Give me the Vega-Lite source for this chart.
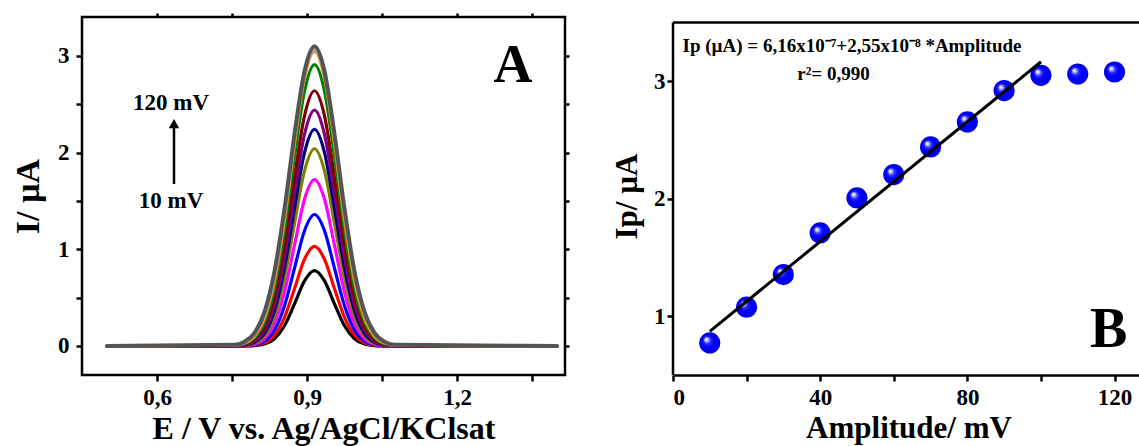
{
  "$schema": "https://vega.github.io/schema/vega-lite/v6.json",
  "padding": {"left": 10, "top": 10, "right": 0, "bottom": 0},
  "background": "white",
  "bounds": "flush",
  "spacing": 108,
  "datasets": {
    "curves": [
      {"a":10,"E":0.5,"I":0},{"a":10,"E":0.755,"I":0},{"a":10,"E":0.775,"I":0.001},{"a":10,"E":0.795,"I":0.004},{"a":10,"E":0.815,"I":0.020},{"a":10,"E":0.835,"I":0.075},{"a":10,"E":0.855,"I":0.209},{"a":10,"E":0.875,"I":0.435},{"a":10,"E":0.895,"I":0.674},{"a":10,"E":0.915,"I":0.78},{"a":10,"E":0.935,"I":0.674},{"a":10,"E":0.955,"I":0.435},{"a":10,"E":0.975,"I":0.209},{"a":10,"E":0.995,"I":0.075},{"a":10,"E":1.015,"I":0.020},{"a":10,"E":1.035,"I":0.004},{"a":10,"E":1.055,"I":0.001},{"a":10,"E":1.075,"I":0},{"a":10,"E":1.4,"I":0},
      {"a":20,"E":0.5,"I":0},{"a":20,"E":0.755,"I":0},{"a":20,"E":0.775,"I":0.001},{"a":20,"E":0.795,"I":0.007},{"a":20,"E":0.815,"I":0.032},{"a":20,"E":0.835,"I":0.112},{"a":20,"E":0.855,"I":0.296},{"a":20,"E":0.875,"I":0.592},{"a":20,"E":0.895,"I":0.897},{"a":20,"E":0.915,"I":1.03},{"a":20,"E":0.935,"I":0.897},{"a":20,"E":0.955,"I":0.592},{"a":20,"E":0.975,"I":0.296},{"a":20,"E":0.995,"I":0.112},{"a":20,"E":1.015,"I":0.032},{"a":20,"E":1.035,"I":0.007},{"a":20,"E":1.055,"I":0.001},{"a":20,"E":1.075,"I":0},{"a":20,"E":1.4,"I":0},
      {"a":30,"E":0.5,"I":0},{"a":30,"E":0.755,"I":0},{"a":30,"E":0.775,"I":0.002},{"a":30,"E":0.795,"I":0.012},{"a":30,"E":0.815,"I":0.051},{"a":30,"E":0.835,"I":0.166},{"a":30,"E":0.855,"I":0.417},{"a":30,"E":0.875,"I":0.804},{"a":30,"E":0.895,"I":1.192},{"a":30,"E":0.915,"I":1.36},{"a":30,"E":0.935,"I":1.192},{"a":30,"E":0.955,"I":0.804},{"a":30,"E":0.975,"I":0.417},{"a":30,"E":0.995,"I":0.166},{"a":30,"E":1.015,"I":0.051},{"a":30,"E":1.035,"I":0.012},{"a":30,"E":1.055,"I":0.002},{"a":30,"E":1.075,"I":0},{"a":30,"E":1.4,"I":0},
      {"a":40,"E":0.5,"I":0},{"a":40,"E":0.755,"I":0.001},{"a":40,"E":0.775,"I":0.004},{"a":40,"E":0.795,"I":0.019},{"a":40,"E":0.815,"I":0.076},{"a":40,"E":0.835,"I":0.233},{"a":40,"E":0.855,"I":0.558},{"a":40,"E":0.875,"I":1.043},{"a":40,"E":0.895,"I":1.518},{"a":40,"E":0.915,"I":1.72},{"a":40,"E":0.935,"I":1.518},{"a":40,"E":0.955,"I":1.043},{"a":40,"E":0.975,"I":0.558},{"a":40,"E":0.995,"I":0.233},{"a":40,"E":1.015,"I":0.076},{"a":40,"E":1.035,"I":0.019},{"a":40,"E":1.055,"I":0.004},{"a":40,"E":1.075,"I":0.001},{"a":40,"E":1.4,"I":0},
      {"a":50,"E":0.5,"I":0},{"a":50,"E":0.755,"I":0.001},{"a":50,"E":0.775,"I":0.006},{"a":50,"E":0.795,"I":0.028},{"a":50,"E":0.815,"I":0.104},{"a":50,"E":0.835,"I":0.304},{"a":50,"E":0.855,"I":0.699},{"a":50,"E":0.875,"I":1.267},{"a":50,"E":0.895,"I":1.811},{"a":50,"E":0.915,"I":2.04},{"a":50,"E":0.935,"I":1.811},{"a":50,"E":0.955,"I":1.267},{"a":50,"E":0.975,"I":0.699},{"a":50,"E":0.995,"I":0.304},{"a":50,"E":1.015,"I":0.104},{"a":50,"E":1.035,"I":0.028},{"a":50,"E":1.055,"I":0.006},{"a":50,"E":1.075,"I":0.001},{"a":50,"E":1.4,"I":0},
      {"a":60,"E":0.5,"I":0},{"a":60,"E":0.755,"I":0.002},{"a":60,"E":0.775,"I":0.009},{"a":60,"E":0.795,"I":0.038},{"a":60,"E":0.815,"I":0.131},{"a":60,"E":0.835,"I":0.365},{"a":60,"E":0.855,"I":0.807},{"a":60,"E":0.875,"I":1.423},{"a":60,"E":0.895,"I":2.000},{"a":60,"E":0.915,"I":2.24},{"a":60,"E":0.935,"I":2.000},{"a":60,"E":0.955,"I":1.423},{"a":60,"E":0.975,"I":0.807},{"a":60,"E":0.995,"I":0.365},{"a":60,"E":1.015,"I":0.131},{"a":60,"E":1.035,"I":0.038},{"a":60,"E":1.055,"I":0.009},{"a":60,"E":1.075,"I":0.002},{"a":60,"E":1.4,"I":0},
      {"a":70,"E":0.5,"I":0},{"a":70,"E":0.755,"I":0.002},{"a":70,"E":0.775,"I":0.012},{"a":70,"E":0.795,"I":0.050},{"a":70,"E":0.815,"I":0.163},{"a":70,"E":0.835,"I":0.432},{"a":70,"E":0.855,"I":0.922},{"a":70,"E":0.875,"I":1.583},{"a":70,"E":0.895,"I":2.190},{"a":70,"E":0.915,"I":2.44},{"a":70,"E":0.935,"I":2.190},{"a":70,"E":0.955,"I":1.583},{"a":70,"E":0.975,"I":0.922},{"a":70,"E":0.995,"I":0.432},{"a":70,"E":1.015,"I":0.163},{"a":70,"E":1.035,"I":0.050},{"a":70,"E":1.055,"I":0.012},{"a":70,"E":1.075,"I":0.002},{"a":70,"E":1.4,"I":0},
      {"a":80,"E":0.5,"I":0},{"a":80,"E":0.755,"I":0.004},{"a":80,"E":0.775,"I":0.017},{"a":80,"E":0.795,"I":0.064},{"a":80,"E":0.815,"I":0.200},{"a":80,"E":0.835,"I":0.506},{"a":80,"E":0.855,"I":1.042},{"a":80,"E":0.875,"I":1.746},{"a":80,"E":0.895,"I":2.381},{"a":80,"E":0.915,"I":2.64},{"a":80,"E":0.935,"I":2.381},{"a":80,"E":0.955,"I":1.746},{"a":80,"E":0.975,"I":1.042},{"a":80,"E":0.995,"I":0.506},{"a":80,"E":1.015,"I":0.200},{"a":80,"E":1.035,"I":0.064},{"a":80,"E":1.055,"I":0.017},{"a":80,"E":1.075,"I":0.004},{"a":80,"E":1.4,"I":0},
      {"a":90,"E":0.5,"I":0},{"a":90,"E":0.755,"I":0.005},{"a":90,"E":0.775,"I":0.023},{"a":90,"E":0.795,"I":0.083},{"a":90,"E":0.815,"I":0.246},{"a":90,"E":0.835,"I":0.599},{"a":90,"E":0.855,"I":1.196},{"a":90,"E":0.875,"I":1.960},{"a":90,"E":0.895,"I":2.636},{"a":90,"E":0.915,"I":2.91},{"a":90,"E":0.935,"I":2.636},{"a":90,"E":0.955,"I":1.960},{"a":90,"E":0.975,"I":1.196},{"a":90,"E":0.995,"I":0.599},{"a":90,"E":1.015,"I":0.246},{"a":90,"E":1.035,"I":0.083},{"a":90,"E":1.055,"I":0.023},{"a":90,"E":1.075,"I":0.005},{"a":90,"E":1.4,"I":0},
      {"a":100,"E":0.5,"I":0},{"a":100,"E":0.755,"I":0.007},{"a":100,"E":0.775,"I":0.030},{"a":100,"E":0.795,"I":0.102},{"a":100,"E":0.815,"I":0.287},{"a":100,"E":0.835,"I":0.672},{"a":100,"E":0.855,"I":1.303},{"a":100,"E":0.875,"I":2.090},{"a":100,"E":0.895,"I":2.775},{"a":100,"E":0.915,"I":3.05},{"a":100,"E":0.935,"I":2.775},{"a":100,"E":0.955,"I":2.090},{"a":100,"E":0.975,"I":1.303},{"a":100,"E":0.995,"I":0.672},{"a":100,"E":1.015,"I":0.287},{"a":100,"E":1.035,"I":0.102},{"a":100,"E":1.055,"I":0.030},{"a":100,"E":1.075,"I":0.007},{"a":100,"E":1.4,"I":0},
      {"a":110,"E":0.5,"I":0},{"a":110,"E":0.755,"I":0.009},{"a":110,"E":0.775,"I":0.036},{"a":110,"E":0.795,"I":0.118},{"a":110,"E":0.815,"I":0.319},{"a":110,"E":0.835,"I":0.721},{"a":110,"E":0.855,"I":1.359},{"a":110,"E":0.875,"I":2.137},{"a":110,"E":0.895,"I":2.804},{"a":110,"E":0.915,"I":3.07},{"a":110,"E":0.935,"I":2.804},{"a":110,"E":0.955,"I":2.137},{"a":110,"E":0.975,"I":1.359},{"a":110,"E":0.995,"I":0.721},{"a":110,"E":1.015,"I":0.319},{"a":110,"E":1.035,"I":0.118},{"a":110,"E":1.055,"I":0.036},{"a":110,"E":1.075,"I":0.009},{"a":110,"E":1.4,"I":0},
      {"a":120,"E":0.5,"I":0},{"a":120,"E":0.755,"I":0.012},{"a":120,"E":0.775,"I":0.044},{"a":120,"E":0.795,"I":0.136},{"a":120,"E":0.815,"I":0.354},{"a":120,"E":0.835,"I":0.773},{"a":120,"E":0.855,"I":1.419},{"a":120,"E":0.875,"I":2.191},{"a":120,"E":0.895,"I":2.842},{"a":120,"E":0.915,"I":3.10},{"a":120,"E":0.935,"I":2.842},{"a":120,"E":0.955,"I":2.191},{"a":120,"E":0.975,"I":1.419},{"a":120,"E":0.995,"I":0.773},{"a":120,"E":1.015,"I":0.354},{"a":120,"E":1.035,"I":0.136},{"a":120,"E":1.055,"I":0.044},{"a":120,"E":1.075,"I":0.012},{"a":120,"E":1.4,"I":0}
    ],
    "ip": [
      {"A":10,"I":0.773},{"A":20,"I":1.077},{"A":30,"I":1.355},{"A":40,"I":1.709},
      {"A":50,"I":2.007},{"A":60,"I":2.206},{"A":70,"I":2.441},{"A":80,"I":2.654},
      {"A":90,"I":2.921},{"A":100,"I":3.051},{"A":110,"I":3.062},{"A":120,"I":3.079}
    ],
    "fit": [
      {"A":10,"I":0.871},{"A":100,"I":3.166}
    ]
  },
  "hconcat": [
    {
      "width": 483,
      "height": 358,
      "layer": [
        {
          "data": {"name": "curves"},
          "mark": {"type": "line", "interpolate": "monotone", "strokeCap": "round", "strokeJoin": "round"},
          "encoding": {
            "x": {
              "field": "E", "type": "quantitative",
              "scale": {"domain": [0.45, 1.416], "nice": false, "zero": false},
              "axis": {
                "title": "E / V vs. Ag/AgCl/KClsat",
                "values": [0.6, 0.75, 0.9, 1.05, 1.2, 1.35],
                "labelExpr": "round(datum.value*100) % 30 === 0 ? replace(format(datum.value, '.1f'), '.', ',') : ''",
                "domain": false,
                "labelPadding": 5,
                "titlePadding": 4,
                "titleFontSize": 32
              }
            },
            "y": {
              "field": "I", "type": "quantitative",
              "scale": {"domain": [-0.3, 3.403], "nice": false, "zero": false},
              "axis": {
                "title": "I/ µA",
                "values": [0, 0.5, 1, 1.5, 2, 2.5, 3],
                "labelExpr": "datum.value % 1 === 0 ? format(datum.value, 'd') : ''",
                "domain": false,
                "labelPadding": 7,
                "titlePadding": 12,
                "titleFontSize": 34
              }
            },
            "color": {
              "field": "a", "type": "nominal",
              "scale": {
                "domain": [10, 20, 30, 40, 50, 60, 70, 80, 90, 100, 110, 120],
                "range": ["#000000", "#ff0000", "#0000ff", "#ff00ff", "#808000", "#000080", "#800080", "#800000", "#008000", "#ff8000", "#a6a6a6", "#545454"]
              },
              "legend": null
            },
            "strokeWidth": {"condition": {"test": "datum.a === 120", "value": 4}, "value": 3.2}
          }
        },
        {
          "data": {"values": [{}]},
          "mark": {"type": "text", "text": "A", "font": "Liberation Serif", "fontWeight": "bold", "fontSize": 54, "align": "center", "baseline": "middle", "color": "#000"},
          "encoding": {
            "x": {"datum": 1.312, "type": "quantitative", "axis": {"orient": "top", "labels": false, "title": null, "domain": false, "values": [0.6, 0.75, 0.9, 1.05, 1.2, 1.35], "tickSize": 4}},
            "y": {"datum": 2.9, "type": "quantitative", "axis": {"orient": "right", "labels": false, "title": null, "domain": false, "values": [0, 0.5, 1, 1.5, 2, 2.5, 3], "tickSize": 4}}
          }
        },
        {
          "data": {"values": [{}]},
          "mark": {"type": "text", "text": "120 mV", "font": "Liberation Serif", "fontWeight": "bold", "fontSize": 23, "align": "center", "baseline": "middle", "color": "#000"},
          "encoding": {
            "x": {"datum": 0.628, "type": "quantitative", "axis": null},
            "y": {"datum": 2.51, "type": "quantitative", "axis": null}
          }
        },
        {
          "data": {"values": [{}]},
          "mark": {"type": "text", "text": "10 mV", "font": "Liberation Serif", "fontWeight": "bold", "fontSize": 23, "align": "center", "baseline": "middle", "color": "#000"},
          "encoding": {
            "x": {"datum": 0.628, "type": "quantitative", "axis": null},
            "y": {"datum": 1.5, "type": "quantitative", "axis": null}
          }
        },
        {
          "data": {"values": [{}]},
          "mark": {"type": "rule", "color": "#000", "strokeWidth": 2.5},
          "encoding": {
            "x": {"datum": 0.634, "type": "quantitative", "axis": null},
            "y": {"datum": 1.675, "type": "quantitative", "axis": null},
            "y2": {"datum": 2.28}
          }
        },
        {
          "data": {"values": [{}]},
          "mark": {"type": "point", "shape": "triangle-up", "filled": true, "color": "#000", "opacity": 1, "size": 110},
          "encoding": {
            "x": {"datum": 0.634, "type": "quantitative", "axis": null},
            "y": {"datum": 2.3, "type": "quantitative", "axis": null}
          }
        }
      ],
      "resolve": {"axis": {"x": "independent", "y": "independent"}}
    },
    {
      "width": 471,
      "height": 358,
      "view": {"stroke": null},
      "layer": [
        {
          "data": {"name": "ip"},
          "mark": {
            "type": "point", "shape": "circle", "filled": true, "opacity": 1, "size": 450, "strokeWidth": 0,
            "fill": {
              "gradient": "radial", "x1": 0.32, "y1": 0.32, "r1": 0, "x2": 0.5, "y2": 0.5, "r2": 0.55,
              "stops": [
                {"offset": 0, "color": "#ffffff"},
                {"offset": 0.12, "color": "#d0d0ff"},
                {"offset": 0.3, "color": "#3030ff"},
                {"offset": 0.5, "color": "#0000ff"},
                {"offset": 1, "color": "#0000e0"}
              ]
            }
          },
          "encoding": {
            "x": {
              "field": "A", "type": "quantitative",
              "scale": {"domain": [0, 128], "nice": false, "zero": false},
              "axis": {
                "title": "Amplitude/ mV",
                "values": [0, 20, 40, 60, 80, 100, 120],
                "labelExpr": "datum.value % 40 === 0 ? format(datum.value, 'd') : ''",
                "domain": true,
                "labelPadding": 5,
                "titlePadding": 4,
                "titleFontSize": 31
              }
            },
            "y": {
              "field": "I", "type": "quantitative",
              "scale": {"domain": [0.5, 3.547], "nice": false, "zero": false},
              "axis": {
                "title": "Ip/ µA",
                "values": [1, 2, 3],
                "format": "d",
                "domain": false,
                "labelPadding": 2,
                "titlePadding": 10,
                "titleFontSize": 31
              }
            }
          }
        },
        {
          "data": {"name": "fit"},
          "mark": {"type": "line", "color": "#000", "strokeWidth": 3},
          "encoding": {
            "x": {"field": "A", "type": "quantitative"},
            "y": {"field": "I", "type": "quantitative"}
          }
        },
        {
          "data": {"values": [{}]},
          "mark": {"type": "rule", "color": "#000", "strokeWidth": 2.5},
          "encoding": {
            "x": {"datum": 0, "type": "quantitative"},
            "y": {"datum": 0.5, "type": "quantitative"},
            "y2": {"datum": 3.5}
          }
        },
        {
          "data": {"values": [{}]},
          "mark": {"type": "rule", "color": "#000", "strokeWidth": 2.5},
          "encoding": {
            "x": {"datum": 0, "type": "quantitative"},
            "x2": {"datum": 128},
            "y": {"datum": 3.5, "type": "quantitative"}
          }
        },
        {
          "data": {"values": [{}]},
          "mark": {"type": "text", "text": "Ip (µA) = 6,16x10⁻⁷+2,55x10⁻⁸ *Amplitude", "font": "Liberation Serif", "fontWeight": "bold", "fontSize": 19, "align": "left", "baseline": "middle", "color": "#000"},
          "encoding": {
            "x": {"datum": 2.6, "type": "quantitative"},
            "y": {"datum": 3.304, "type": "quantitative"}
          }
        },
        {
          "data": {"values": [{}]},
          "mark": {"type": "text", "text": "r²= 0,990", "font": "Liberation Serif", "fontWeight": "bold", "fontSize": 19, "align": "center", "baseline": "middle", "color": "#000"},
          "encoding": {
            "x": {"datum": 43.6, "type": "quantitative"},
            "y": {"datum": 3.06, "type": "quantitative"}
          }
        },
        {
          "data": {"values": [{}]},
          "mark": {"type": "text", "text": "B", "font": "Liberation Serif", "fontWeight": "bold", "fontSize": 56, "align": "center", "baseline": "middle", "color": "#000"},
          "encoding": {
            "x": {"datum": 118.4, "type": "quantitative"},
            "y": {"datum": 0.88, "type": "quantitative"}
          }
        }
      ]
    }
  ],
  "config": {
    "view": {"stroke": "#000", "strokeWidth": 2.5},
    "font": "Liberation Serif",
    "axis": {
      "grid": false,
      "labelFont": "Liberation Serif",
      "labelFontWeight": "bold",
      "labelFontSize": 23,
      "labelColor": "#000",
      "titleFont": "Liberation Serif",
      "titleFontWeight": "bold",
      "titleColor": "#000",
      "tickColor": "#000",
      "tickWidth": 2.5,
      "tickSize": 6,
      "domainColor": "#000",
      "domainWidth": 2.5
    }
  }
}
